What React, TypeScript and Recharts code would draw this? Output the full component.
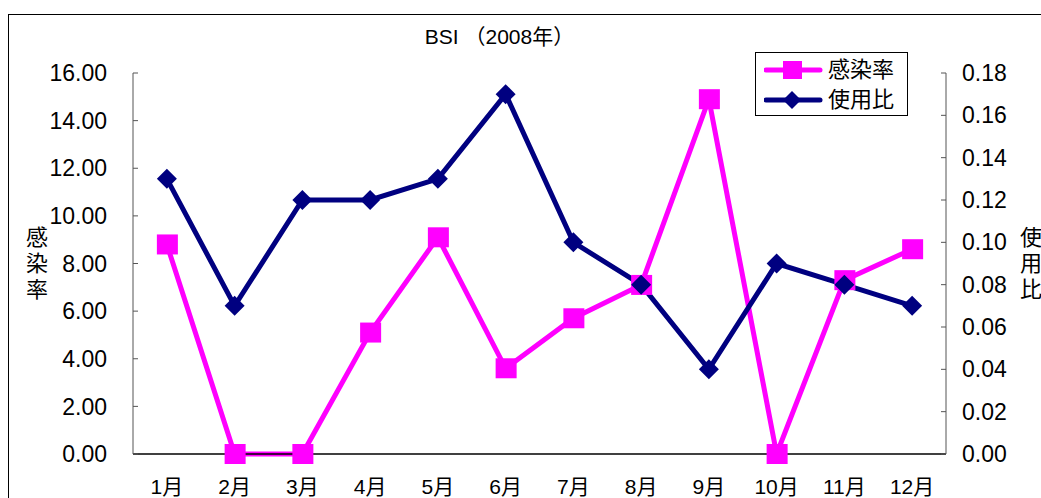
import { LineChart, Line, XAxis, YAxis, Label } from 'recharts';

const months = ['1月', '2月', '3月', '4月', '5月', '6月', '7月', '8月', '9月', '10月', '11月', '12月'];
const infectionRate = [8.8, 0, 0, 5.1, 9.1, 3.6, 5.7, 7.1, 14.9, 0, 7.3, 8.6];
const usageRatio = [0.13, 0.07, 0.12, 0.12, 0.13, 0.17, 0.1, 0.08, 0.04, 0.09, 0.08, 0.07];
const leftTicks = [0, 2, 4, 6, 8, 10, 12, 14, 16];
const rightTicks = [0, 0.02, 0.04, 0.06, 0.08, 0.1, 0.12, 0.14, 0.16, 0.18];
const edgeTicks = [0, 1, 2, 3, 4, 5, 6, 7, 8, 9, 10, 11, 12];

const data = months.map((month, i) => ({
  month,
  rate: infectionRate[i],
  ratio: usageRatio[i],
}));

const FONT = '"Liberation Sans", "Noto Sans CJK JP", sans-serif';
const PINK = '#ff00ff';
const NAVY = '#000080';

const SquareDot = (props: any) => {
  const { cx, cy, index } = props;
  if (cx == null || cy == null) return null;
  return <rect key={`sq-${index}`} x={cx - 10} y={cy - 10} width={21} height={20} fill={PINK} />;
};

const DiamondDot = (props: any) => {
  const { cx, cy, index } = props;
  if (cx == null || cy == null) return null;
  return (
    <path
      key={`dm-${index}`}
      d={`M${cx},${cy - 10} L${cx + 10},${cy} L${cx},${cy + 10} L${cx - 10},${cy} Z`}
      fill={NAVY}
    />
  );
};

// stacked characters for the vertical axis titles
const stackedLabel = (chars: string[], dx: number, y0: number) => (props: any) => {
  const vb = props.viewBox || {};
  return (
    <g>
      {chars.map((c, i) => (
        <text
          key={c}
          x={vb.x + dx}
          y={y0 + i * 26}
          textAnchor="middle"
          dominantBaseline="central"
          fontSize={22}
          fontFamily={FONT}
          fill="#000"
        >
          {c}
        </text>
      ))}
    </g>
  );
};

const legendItems = [
  { name: '感染率', color: PINK, shape: 'square' },
  { name: '使用比', color: NAVY, shape: 'diamond' },
];

const LegendBox = () => (
  <div
    style={{
      position: 'absolute',
      left: 755,
      top: 52,
      border: '1px solid #000',
      background: '#fff',
      width: 153,
      height: 64,
      boxSizing: 'border-box',
      fontFamily: FONT,
      fontSize: 22,
      padding: '2px 0 0 8px',
    }}
  >
    {legendItems.map((item) => (
      <div key={item.name} style={{ display: 'flex', alignItems: 'center', height: 30 }}>
        <svg width={60} height={24}>
          <line x1={2} y1={12} x2={56} y2={12} stroke={item.color} strokeWidth={5} strokeLinecap="round" />
          {item.shape === 'square' ? (
            <rect x={19} y={3} width={19} height={18} fill={item.color} />
          ) : (
            <path d="M28,3 L37,12 L28,21 L19,12 Z" fill={item.color} />
          )}
        </svg>
        <span style={{ marginLeft: 4, lineHeight: 1 }}>{item.name}</span>
      </div>
    ))}
  </div>
);

export default function App() {
  return (
    <div style={{ position: 'absolute', left: 0, top: 0, width: 1041, height: 498, overflow: 'hidden', background: '#fff' }}>
      <div
        style={{
          position: 'absolute',
          left: 8,
          top: 14,
          width: 1100,
          height: 600,
          border: '1px solid #000',
        }}
      />
      <div
        style={{
          position: 'absolute',
          left: 0,
          top: 26,
          width: 999,
          textAlign: 'center',
          fontFamily: FONT,
          fontSize: 21,
          lineHeight: '22px',
        }}
      >
        BSI （2008年）
      </div>
      <div style={{ position: 'absolute', left: 0, top: 0 }}>
        <LineChart width={1041} height={498} data={data} margin={{ top: 73, right: 0, bottom: 0, left: 0 }}>
          <XAxis
            xAxisId="edge"
            type="number"
            domain={[0, 12]}
            allowDataOverflow
            ticks={edgeTicks}
            tick={false}
            axisLine={false}
            tickLine={{ stroke: '#000' }}
            tickSize={-5}
            height={0}
          />
          <XAxis
            xAxisId="cat"
            dataKey="month"
            scale="band"
            tickLine={false}
            axisLine={{ stroke: '#000', strokeWidth: 1.5 }}
            tick={{ fill: '#000', fontSize: 21, fontFamily: FONT }}
            tickMargin={19}
            height={44}
            interval={0}
          />
          <YAxis
            yAxisId="left"
            orientation="left"
            width={133}
            domain={[0, 16]}
            ticks={leftTicks}
            tickFormatter={(v: number) => v.toFixed(2)}
            axisLine={{ stroke: '#555' }}
            tickLine={{ stroke: '#555' }}
            tickSize={-5}
            tickMargin={31}
            tick={{ fill: '#000', fontSize: 23, fontFamily: FONT }}
          >
            <Label content={stackedLabel(['感', '染', '率'], 37, 237)} />
          </YAxis>
          <YAxis
            yAxisId="right"
            orientation="right"
            width={95}
            domain={[0, 0.18]}
            ticks={rightTicks}
            tickFormatter={(v: number) => v.toFixed(2)}
            axisLine={{ stroke: '#555' }}
            tickLine={{ stroke: '#555' }}
            tickSize={-5}
            tickMargin={21}
            tick={{ fill: '#000', fontSize: 23, fontFamily: FONT, textAnchor: 'start' }}
          >
            <Label content={stackedLabel(['使', '用', '比'], 85, 237)} />
          </YAxis>
          <Line
            xAxisId="cat"
            yAxisId="left"
            type="linear"
            dataKey="rate"
            name="感染率"
            stroke={PINK}
            strokeWidth={5}
            dot={SquareDot}
            activeDot={false}
            isAnimationActive={false}
          />
          <Line
            xAxisId="cat"
            yAxisId="right"
            type="linear"
            dataKey="ratio"
            name="使用比"
            stroke={NAVY}
            strokeWidth={5}
            dot={DiamondDot}
            activeDot={false}
            isAnimationActive={false}
          />
        </LineChart>
      </div>
      <LegendBox />
    </div>
  );
}
